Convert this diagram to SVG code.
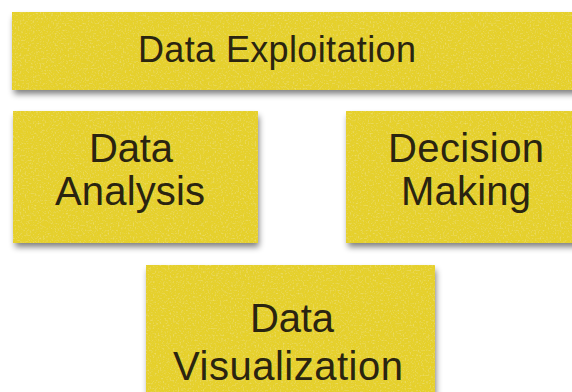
<svg xmlns="http://www.w3.org/2000/svg" width="572" height="392" viewBox="0 0 572 392">
  <style>
    .note { fill: #e6d02a; }
    .shadow { fill: #000; opacity: 0.5; }
    .label { font-family: "Liberation Sans", Arial, Helvetica, sans-serif; fill: #2a2410; text-anchor: middle; }
    .big { font-size: 36px; }
    .med { font-size: 40px; }
  </style>
  <defs>
    <filter id="blur" x="-10%" y="-20%" width="120%" height="150%">
      <feGaussianBlur stdDeviation="3"/>
    </filter>
    <filter id="paper" x="0" y="0" width="100%" height="100%">
      <feTurbulence type="fractalNoise" baseFrequency="0.85" numOctaves="2" seed="7" result="noise"/>
      <feColorMatrix in="noise" type="matrix" values="0 0 0 0 0.75  0 0 0 0 0.64  0 0 0 0 0.06  0 0 0 1.4 -0.6" result="speck"/>
      <feComposite in="speck" in2="SourceGraphic" operator="in" result="speckIn"/>
      <feTurbulence type="fractalNoise" baseFrequency="0.6" numOctaves="1" seed="3" result="noise2"/>
      <feColorMatrix in="noise2" type="matrix" values="0 0 0 0 0.96  0 0 0 0 0.9  0 0 0 0 0.35  0 0 0 1.2 -0.65" result="light"/>
      <feComposite in="light" in2="SourceGraphic" operator="in" result="lightIn"/>
      <feMerge>
        <feMergeNode in="SourceGraphic"/>
        <feMergeNode in="speckIn"/>
        <feMergeNode in="lightIn"/>
      </feMerge>
    </filter>
  </defs>
  <rect x="0" y="0" width="572" height="392" fill="#ffffff"/>

  <g id="data-exploitation">
    <rect class="shadow" x="14" y="17" width="570" height="77" filter="url(#blur)"/>
    <rect class="note" x="12" y="12" width="572" height="78" filter="url(#paper)"/>
    <text class="label big" x="277" y="62" textLength="278" lengthAdjust="spacing">Data Exploitation</text>
  </g>

  <g id="data-analysis">
    <rect class="shadow" x="15" y="116" width="244" height="131" filter="url(#blur)"/>
    <rect class="note" x="13" y="111" width="245" height="132" filter="url(#paper)"/>
    <text class="label med" x="131" y="162" textLength="84" lengthAdjust="spacing">Data</text>
    <text class="label med" x="130" y="205" textLength="150" lengthAdjust="spacing">Analysis</text>
  </g>

  <g id="decision-making">
    <rect class="shadow" x="348" y="116" width="238" height="131" filter="url(#blur)"/>
    <rect class="note" x="346" y="111" width="240" height="132" filter="url(#paper)"/>
    <text class="label med" x="466" y="162" textLength="156" lengthAdjust="spacing">Decision</text>
    <text class="label med" x="466" y="205" textLength="130" lengthAdjust="spacing">Making</text>
  </g>

  <g id="data-visualization">
    <rect class="shadow" x="148" y="270" width="288" height="140" filter="url(#blur)"/>
    <rect class="note" x="146" y="265" width="289" height="140" filter="url(#paper)"/>
    <text class="label med" x="292" y="332" textLength="84" lengthAdjust="spacing">Data</text>
    <text class="label med" x="288" y="380" textLength="230" lengthAdjust="spacing">Visualization</text>
  </g>

  <g id="connectors"></g>
</svg>
